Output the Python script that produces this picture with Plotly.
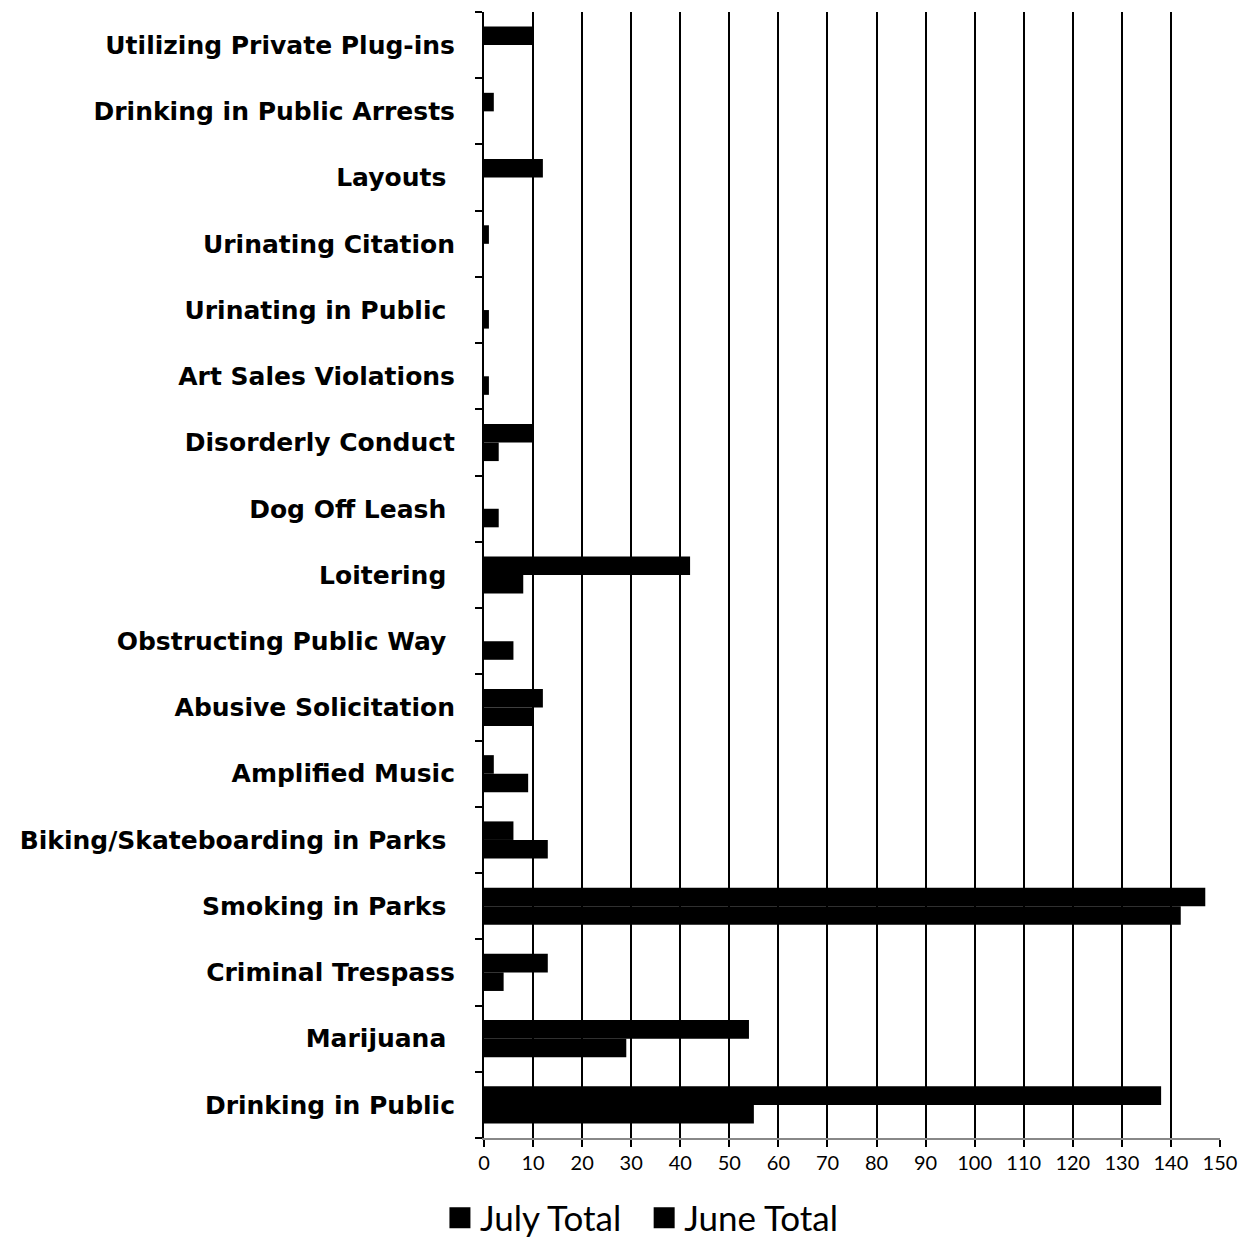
import plotly.graph_objects as go

categories = [
    "Drinking in Public", "Marijuana\u00a0", "Criminal Trespass", "Smoking in Parks\u00a0",
    "Biking/Skateboarding in Parks\u00a0", "Amplified Music", "Abusive Solicitation",
    "Obstructing Public Way\u00a0", "Loitering\u00a0", "Dog Off Leash\u00a0", "Disorderly Conduct",
    "Art Sales Violations", "Urinating in Public\u00a0", "Urinating Citation", "Layouts\u00a0",
    "Drinking in Public Arrests", "Utilizing Private Plug-ins",
]
july_total = [55, 29, 4, 142, 13, 9, 10, 6, 8, 3, 3, 1, 1, 0, 0, 0, 0]
june_total = [138, 54, 13, 147, 6, 2, 12, 0, 42, 0, 10, 0, 0, 1, 12, 2, 10]
x_ticks = list(range(0, 151, 10))
series_names = ["July Total", "June Total"]
legend_labels = ["July Total\u00a0\u00a0", "June Total"]

fig = go.Figure()
for name, vals in zip(series_names, [july_total, june_total]):
    fig.add_trace(go.Bar(y=categories, x=vals, name=name, orientation="h",
                         marker=dict(color="black", line=dict(width=0)),
                         showlegend=False))
# legend entries with large square swatches
for label in legend_labels:
    fig.add_trace(go.Scatter(x=[None], y=[None], mode="markers", name=label,
                             marker=dict(symbol="square", size=16, color="black",
                                         line=dict(color="black", width=5)),
                             showlegend=True))

W, H = 1232, 1229
fig.update_layout(
    width=W, height=H,
    margin=dict(l=476, r=20, t=4, b=99),
    paper_bgcolor="white", plot_bgcolor="white",
    barmode="group", bargap=0.44, bargroupgap=0,
    showlegend=True,
    legend=dict(orientation="h", x=0.3506, xanchor="left", xref="container",
                y=0.0155, yanchor="middle", yref="container",
                font=dict(family="Lato, Open Sans, sans-serif", size=35, color="black"),
                itemwidth=30, tracegroupgap=0, traceorder="normal"),
    xaxis=dict(range=[0, 150], tickvals=x_ticks, ticktext=[str(v) for v in x_ticks],
               showgrid=True, gridcolor="black", gridwidth=2,
               showline=True, linecolor="#888888", linewidth=2,
               ticks="outside", ticklen=7, tickcolor="black", tickwidth=2,
               tickfont=dict(family="Lato, Open Sans, sans-serif", size=20, color="black"),
               ticklabelstandoff=-1,
               zeroline=False, automargin=False),
    yaxis=dict(categoryorder="array", categoryarray=categories,
               showline=True, linecolor="black", linewidth=2,
               ticks="outside", tickson="boundaries", ticklen=7, tickcolor="black", tickwidth=2,
               tickfont=dict(family="DejaVu Sans, sans-serif", size=25, color="black"),
               showgrid=False, ticklabelstandoff=22, automargin=False),
)
fig.update_yaxes(tickprefix="<b>", ticksuffix="</b>")
fig.write_html("out.html")
